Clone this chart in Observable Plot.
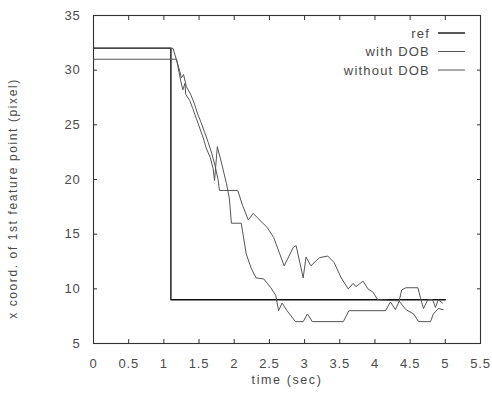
<!DOCTYPE html>
<html><head><meta charset="utf-8">
<script src="https://cdn.jsdelivr.net/npm/d3@7"></script>
<script src="https://cdn.jsdelivr.net/npm/@observablehq/plot@0.6"></script>
<style>
body{margin:0;background:#fff;}
#chart svg{display:block;}
#chart text{letter-spacing:0.8px;}
#chart g[aria-label="text"] text{letter-spacing:1.6px;}
</style></head><body><div id="chart"></div>
<script>
const xTicks = [0, 0.5, 1, 1.5, 2, 2.5, 3, 3.5, 4, 4.5, 5, 5.5];
const yTicks = [5, 10, 15, 20, 25, 30, 35];
const seriesNames = ["ref", "with DOB", "without DOB"];
const xLabel = "time (sec)";
const yLabel = "x coord. of 1st feature point (pixel)";

const refTime = [0, 1.1, 1.1, 5.0];
const refValue = [32, 32, 9, 9];

const withTime = [0, 1.18, 1.24, 1.27, 1.30, 1.31, 1.37, 1.41, 1.46, 1.51, 1.56, 1.60, 1.66, 1.70, 1.72, 1.76, 1.82, 1.89, 1.93, 1.96, 2.10, 2.17, 2.24, 2.31, 2.42, 2.52, 2.59, 2.63, 2.68, 2.75, 2.87, 2.98, 3.04, 3.11, 3.55, 3.63, 4.15, 4.22, 4.29, 4.34, 4.38, 4.44, 4.61, 4.65, 4.69, 4.75, 4.82, 4.86, 4.90, 4.96];
const withValue = [31, 31, 29.0, 28.2, 28.8, 27.8, 27.2, 26.5, 25.6, 24.7, 23.8, 22.9, 22.0, 21.0, 19.9, 23.0, 21.5, 19.6, 18.3, 16.0, 16.0, 13.2, 11.9, 11.0, 10.9, 10.1, 9.4, 8.0, 8.7, 8.0, 7.0, 7.0, 7.7, 7.0, 7.0, 8.0, 8.0, 8.8, 8.1, 8.8, 9.9, 10.1, 10.1, 9.1, 8.2, 9.0, 9.0, 8.3, 9.0, 8.7];

const withoutTime = [0, 1.13, 1.20, 1.25, 1.28, 1.32, 1.38, 1.43, 1.48, 1.53, 1.58, 1.63, 1.68, 1.73, 1.77, 1.79, 2.05, 2.12, 2.20, 2.27, 2.33, 2.47, 2.56, 2.71, 2.84, 2.88, 2.98, 3.02, 3.09, 3.21, 3.33, 3.42, 3.52, 3.62, 3.69, 3.73, 3.83, 3.90, 3.97, 4.04, 4.34, 4.44, 4.55, 4.62, 4.79, 4.83, 4.90, 4.97];
const withoutValue = [32, 32, 30.5, 29.3, 29.6, 28.5, 27.8, 27.0, 26.0, 25.2, 24.3, 23.4, 22.4, 21.2, 20.0, 19.0, 19.0, 17.6, 16.3, 16.9, 16.5, 15.6, 14.7, 12.1, 13.8, 13.95, 11.0, 12.9, 12.1, 12.85, 13.0, 12.4, 11.0, 10.0, 10.5, 10.2, 10.7, 10.0, 9.7, 9.0, 8.9, 8.1, 7.7, 7.0, 7.0, 7.7, 8.2, 8.1];

const seriesStroke = ["#111", "#555", "#555"];
const seriesWidth = [1.4, 1, 1];

const toRows = (name, ts, vs) => ts.map((t, i) => ({series: name, t, v: vs[i]}));
const series = [
  toRows(seriesNames[0], refTime, refValue),
  toRows(seriesNames[1], withTime, withValue),
  toRows(seriesNames[2], withoutTime, withoutValue)
];

const font = "'Liberation Sans', Arial, Helvetica, sans-serif";
const textColor = "#4a4a4a";
const noText = () => "";

const plot = Plot.plot({
  width: 492, height: 394,
  marginLeft: 93, marginRight: 12, marginTop: 15, marginBottom: 51,
  style: {fontFamily: font, fontSize: "13px", color: textColor, background: "#fff"},
  x: {domain: [0, 5.5]},
  y: {domain: [5, 35]},
  marks: [
    Plot.axisX({ticks: xTicks, tickSize: 0, tickPadding: 15, tickFormat: d => String(d), label: null, fill: textColor}),
    Plot.axisX({ticks: xTicks, anchor: "bottom", tickSize: 4, dy: -4, tickFormat: noText, label: null, stroke: "#333"}),
    Plot.axisX({ticks: xTicks, anchor: "top", tickSize: 4, dy: 4, tickFormat: noText, label: null, stroke: "#333"}),
    Plot.axisY({ticks: yTicks, tickSize: 0, tickPadding: 13, tickFormat: d => String(d), label: null, fill: textColor}),
    Plot.axisY({ticks: yTicks, anchor: "left", tickSize: 4, dx: 4, tickFormat: noText, label: null, stroke: "#333"}),
    Plot.axisY({ticks: yTicks, anchor: "right", tickSize: 4, dx: -4, tickFormat: noText, label: null, stroke: "#333"}),
    Plot.frame({stroke: "#333", strokeWidth: 1.1}),
    ...series.map((rows, i) => Plot.line(rows, {x: "t", y: "v", stroke: seriesStroke[i], strokeWidth: seriesWidth[i]})),
    Plot.text([xLabel], {frameAnchor: "bottom", textAnchor: "middle", dy: 40, text: d => d, fill: textColor, fontSize: 12.5}),
    Plot.text([yLabel], {frameAnchor: "left", textAnchor: "middle", dx: -80, dy: 19, rotate: -90, text: d => d, fill: textColor, fontSize: 12})
  ]
});

const svg = d3.select(plot);
const lg = svg.append("g").attr("font-family", font).attr("font-size", 13).attr("fill", textColor);
seriesNames.forEach((name, i) => {
  const yy = 33 + i * 18.5;
  lg.append("text").attr("x", 430).attr("y", yy).attr("dy", "0.35em").attr("text-anchor", "end").style("letter-spacing", "1.2px").text(name);
  lg.append("line").attr("x1", 438).attr("x2", 465).attr("y1", yy).attr("y2", yy)
    .attr("stroke", seriesStroke[i]).attr("stroke-width", seriesWidth[i]);
});

document.getElementById("chart").append(plot);
</script></body></html>
